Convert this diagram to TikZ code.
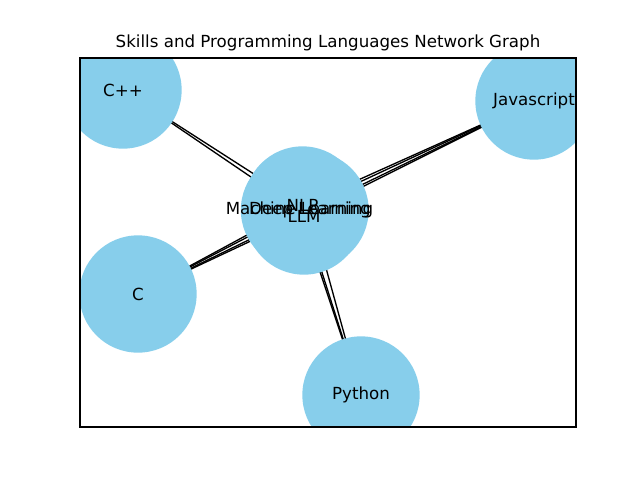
\documentclass[tikz,border=0pt]{standalone}
\usepackage{fontspec}
\setmainfont{DejaVu Sans}
\definecolor{sky}{HTML}{87CEEB}
\pgfdeclarelayer{background}
\pgfdeclarelayer{foreground}
\pgfsetlayers{background,main,foreground}
\begin{document}
\begin{tikzpicture}[x=0.75pt,y=-0.75pt,
  bubble/.style={circle,fill=sky,minimum size=88pt,inner sep=0pt},
  lbl/.style={font=\fontsize{12.5}{15}\selectfont,inner sep=0pt},
  edge/.style={black,line width=1pt},
  frame/.style={black,line width=0.83pt}]
\useasboundingbox (0,0) rectangle (640,480);
\node[lbl] (title) at (328,43) {Skills and Programming Languages Network Graph};
\begin{scope}
\clip (80,58) rectangle (576,427);
\node[bubble] (ml) at (299.5,210) {};
\node[bubble] (dl) at (310,210) {};
\node[bubble] (nlp) at (302.5,205) {};
\node[bubble] (llm) at (304,216) {};
\node[bubble] (cpp) at (123,90) {};
\node[bubble] (js) at (534,101) {};
\node[bubble] (c) at (138,294) {};
\node[bubble] (py) at (361,395) {};
\begin{pgfonlayer}{background}
\draw[edge] (cpp.center) -- (ml.center);
\draw[edge] (cpp.center) -- (dl.center);
\draw[edge] (js.center) -- (ml.center);
\draw[edge] (js.center) -- (dl.center);
\draw[edge] (js.center) -- (nlp.center);
\draw[edge] (js.center) -- (llm.center);
\draw[edge] (c.center) -- (ml.center);
\draw[edge] (c.center) -- (dl.center);
\draw[edge] (c.center) -- (nlp.center);
\draw[edge] (c.center) -- (llm.center);
\draw[edge] (py.center) -- (ml.center);
\draw[edge] (py.center) -- (dl.center);
\draw[edge] (py.center) -- (llm.center);
\end{pgfonlayer}
\begin{pgfonlayer}{foreground}
\node[lbl] at (ml.center) {Machine Learning};
\node[lbl] at (dl.center) {Deep Learning};
\node[lbl] at (nlp.center) {NLP};
\node[lbl] at (llm.center) {LLM};
\node[lbl] at (cpp.center) {C++};
\node[lbl] at (js.center) {Javascript};
\node[lbl] at (c.center) {C};
\node[lbl] at (py.center) {Python};
\end{pgfonlayer}
\end{scope}
\draw[frame] (80,58) rectangle (576,427);
\end{tikzpicture}
\end{document}
